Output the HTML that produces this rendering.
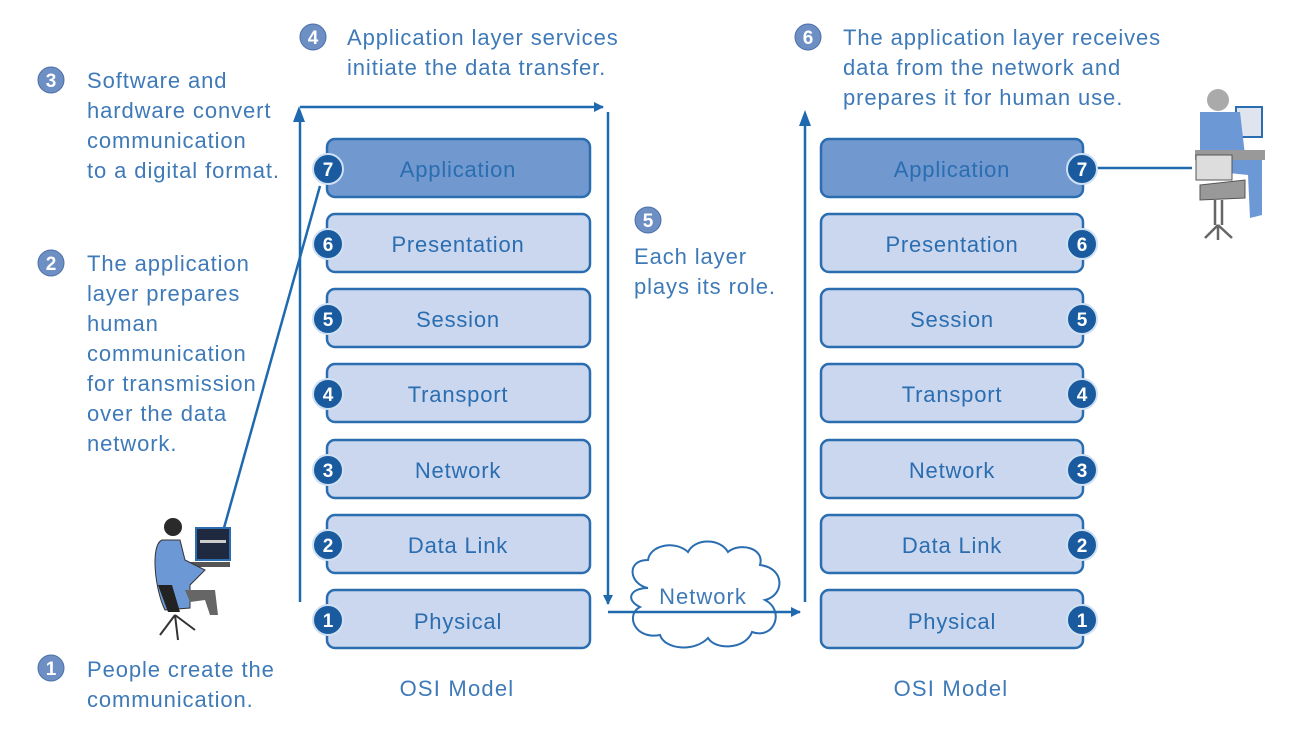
<!DOCTYPE html>
<html><head><meta charset="utf-8"><style>
html,body{margin:0;padding:0;background:#fff}
svg{display:block}
text{font-family:"Liberation Sans",sans-serif}
.t{fill:#3f7ab8;font-size:22px;letter-spacing:0.9px}
.bl{fill:#2a6db0;font-size:22px;letter-spacing:0.8px;text-anchor:middle}
.nb{fill:#fff;font-size:19px;font-weight:bold;text-anchor:middle}
</style></head><body>
<svg width="1297" height="730" viewBox="0 0 1297 730" xmlns="http://www.w3.org/2000/svg">
<defs>
<marker id="ah" markerWidth="10" markerHeight="10" refX="9" refY="5" orient="auto" markerUnits="userSpaceOnUse">
<path d="M0,0 L10,5 L0,10 Z" fill="#1f6aae"/></marker>
</defs>

<g>
<circle cx="51" cy="80" r="13" fill="#6d8fc4" stroke="#4a6fa8"/><text x="51" y="87" class="nb">3</text>
<text class="t" x="87" y="88">Software and</text>
<text class="t" x="87" y="118">hardware convert</text>
<text class="t" x="87" y="148">communication</text>
<text class="t" x="87" y="178">to a digital format.</text>

<circle cx="51" cy="263" r="13" fill="#6d8fc4" stroke="#4a6fa8"/><text x="51" y="270" class="nb">2</text>
<text class="t" x="87" y="271">The application</text>
<text class="t" x="87" y="301">layer prepares</text>
<text class="t" x="87" y="331">human</text>
<text class="t" x="87" y="361">communication</text>
<text class="t" x="87" y="391">for transmission</text>
<text class="t" x="87" y="421">over the data</text>
<text class="t" x="87" y="451">network.</text>

<circle cx="51" cy="668" r="13" fill="#6d8fc4" stroke="#4a6fa8"/><text x="51" y="675" class="nb">1</text>
<text class="t" x="87" y="677">People create the</text>
<text class="t" x="87" y="707">communication.</text>

<circle cx="313" cy="37" r="13" fill="#6d8fc4" stroke="#4a6fa8"/><text x="313" y="44" class="nb">4</text>
<text class="t" x="347" y="45">Application layer services</text>
<text class="t" x="347" y="75">initiate the data transfer.</text>

<circle cx="808" cy="37" r="13" fill="#6d8fc4" stroke="#4a6fa8"/><text x="808" y="44" class="nb">6</text>
<text class="t" x="843" y="45">The application layer receives</text>
<text class="t" x="843" y="75">data from the network and</text>
<text class="t" x="843" y="105">prepares it for human use.</text>

<circle cx="648" cy="220" r="13" fill="#6d8fc4" stroke="#4a6fa8"/><text x="648" y="227" class="nb">5</text>
<text class="t" x="634" y="264">Each layer</text>
<text class="t" x="634" y="294">plays its role.</text>
</g>

<g stroke="#1f6aae" stroke-width="2.5" fill="none">
<path d="M300,602 L300,116"/>
<path d="M300,107 L603,107" marker-end="url(#ah)"/>
<path d="M608,112 L608,604" marker-end="url(#ah)"/>
<path d="M805,602 L805,118"/>
<path d="M320,186 L222,535"/>
<path d="M1096,168 L1192,168"/>
</g>
<path d="M299,106 l-6,16 h12 z" fill="#1f6aae"/>
<path d="M805,110 l-6,16 h12 z" fill="#1f6aae"/>

<path d="M648,588 C630,585 625,560 648,560 C650,545 675,540 688,552 C695,538 720,538 728,552 C740,542 765,548 760,565 C785,568 785,595 765,600 C785,610 775,640 752,632 C745,650 715,650 708,638 C695,652 665,650 660,635 C635,640 625,615 640,607 C625,600 630,588 648,588 Z" fill="#fff" stroke="#2a6db0" stroke-width="2"/>
<text x="703" y="604" style="fill:#3f7ab8;font-size:22px;letter-spacing:1px;text-anchor:middle">Network</text>
<path d="M608,612 L800,612" stroke="#1f6aae" stroke-width="2.5" marker-end="url(#ah)"/>

<g>
<rect x="327" y="139" width="263" height="58" rx="8" fill="#7199cf" stroke="#2a6db0" stroke-width="2.5"/>
<rect x="327" y="214" width="263" height="58" rx="8" fill="#cbd7ee" stroke="#2a6db0" stroke-width="2.5"/>
<rect x="327" y="289" width="263" height="58" rx="8" fill="#cbd7ee" stroke="#2a6db0" stroke-width="2.5"/>
<rect x="327" y="364" width="263" height="58" rx="8" fill="#cbd7ee" stroke="#2a6db0" stroke-width="2.5"/>
<rect x="327" y="440" width="263" height="58" rx="8" fill="#cbd7ee" stroke="#2a6db0" stroke-width="2.5"/>
<rect x="327" y="515" width="263" height="58" rx="8" fill="#cbd7ee" stroke="#2a6db0" stroke-width="2.5"/>
<rect x="327" y="590" width="263" height="58" rx="8" fill="#cbd7ee" stroke="#2a6db0" stroke-width="2.5"/>
<text class="bl" x="458" y="177">Application</text>
<text class="bl" x="458" y="252">Presentation</text>
<text class="bl" x="458" y="327">Session</text>
<text class="bl" x="458" y="402">Transport</text>
<text class="bl" x="458" y="478">Network</text>
<text class="bl" x="458" y="553">Data Link</text>
<text class="bl" x="458" y="629">Physical</text>
<g fill="#1a5a9e" stroke="#cfe0f3" stroke-width="2">
<circle cx="328" cy="169" r="15"/><circle cx="328" cy="244" r="15"/><circle cx="328" cy="319" r="15"/><circle cx="328" cy="394" r="15"/><circle cx="328" cy="470" r="15"/><circle cx="328" cy="545" r="15"/><circle cx="328" cy="620" r="15"/>
</g>
<text class="nb" x="328" y="176">7</text><text class="nb" x="328" y="251">6</text><text class="nb" x="328" y="326">5</text><text class="nb" x="328" y="401">4</text><text class="nb" x="328" y="477">3</text><text class="nb" x="328" y="552">2</text><text class="nb" x="328" y="627">1</text>
<text x="457" y="696" style="fill:#3f7ab8;font-size:22px;letter-spacing:1.2px;text-anchor:middle">OSI Model</text>
</g>

<g>
<rect x="821" y="139" width="262" height="58" rx="8" fill="#7199cf" stroke="#2a6db0" stroke-width="2.5"/>
<rect x="821" y="214" width="262" height="58" rx="8" fill="#cbd7ee" stroke="#2a6db0" stroke-width="2.5"/>
<rect x="821" y="289" width="262" height="58" rx="8" fill="#cbd7ee" stroke="#2a6db0" stroke-width="2.5"/>
<rect x="821" y="364" width="262" height="58" rx="8" fill="#cbd7ee" stroke="#2a6db0" stroke-width="2.5"/>
<rect x="821" y="440" width="262" height="58" rx="8" fill="#cbd7ee" stroke="#2a6db0" stroke-width="2.5"/>
<rect x="821" y="515" width="262" height="58" rx="8" fill="#cbd7ee" stroke="#2a6db0" stroke-width="2.5"/>
<rect x="821" y="590" width="262" height="58" rx="8" fill="#cbd7ee" stroke="#2a6db0" stroke-width="2.5"/>
<text class="bl" x="952" y="177">Application</text>
<text class="bl" x="952" y="252">Presentation</text>
<text class="bl" x="952" y="327">Session</text>
<text class="bl" x="952" y="402">Transport</text>
<text class="bl" x="952" y="478">Network</text>
<text class="bl" x="952" y="553">Data Link</text>
<text class="bl" x="952" y="629">Physical</text>
<g fill="#1a5a9e" stroke="#cfe0f3" stroke-width="2">
<circle cx="1082" cy="169" r="15"/><circle cx="1082" cy="244" r="15"/><circle cx="1082" cy="319" r="15"/><circle cx="1082" cy="394" r="15"/><circle cx="1082" cy="470" r="15"/><circle cx="1082" cy="545" r="15"/><circle cx="1082" cy="620" r="15"/>
</g>
<text class="nb" x="1082" y="176">7</text><text class="nb" x="1082" y="251">6</text><text class="nb" x="1082" y="326">5</text><text class="nb" x="1082" y="401">4</text><text class="nb" x="1082" y="477">3</text><text class="nb" x="1082" y="552">2</text><text class="nb" x="1082" y="627">1</text>
<text x="951" y="696" style="fill:#3f7ab8;font-size:22px;letter-spacing:1.2px;text-anchor:middle">OSI Model</text>
</g>

<g>
<rect x="196" y="528" width="34" height="32" fill="#1f2a40" stroke="#2a6db0" stroke-width="2"/>
<rect x="200" y="540" width="26" height="3" fill="#ccc"/>
<rect x="185" y="562" width="45" height="5" fill="#555"/>
<circle cx="173" cy="527" r="9" fill="#2a2a2a"/>
<path d="M162,540 C150,545 155,590 165,610 L190,608 L190,585 L205,570 L185,560 L180,540 Z" fill="#6d98d6" stroke="#333"/>
<path d="M185,590 L215,590 L218,615 L210,615 L205,600 L190,602 Z" fill="#666"/>
<path d="M158,585 L168,612 L180,612 L172,585 Z" fill="#222"/>
<path d="M175,615 L160,635 M175,615 L195,630 M175,615 L178,640" stroke="#333" stroke-width="2"/>
</g>

<g>
<rect x="1236" y="107" width="26" height="30" fill="#dfe4ee" stroke="#2a6db0" stroke-width="2"/>
<circle cx="1218" cy="100" r="11" fill="#aaa"/>
<path d="M1200,112 L1240,112 L1245,155 L1262,160 L1262,215 L1250,218 L1248,175 L1200,170 Z" fill="#6d98d6"/>
<rect x="1195" y="150" width="70" height="10" fill="#999"/>
<rect x="1196" y="155" width="36" height="25" fill="#ddd" stroke="#555"/>
<path d="M1200,185 L1245,180 L1245,198 L1200,200 Z" fill="#999" stroke="#555"/>
<path d="M1215,200 L1215,225 M1222,200 L1222,225 M1218,225 L1205,238 M1218,225 L1232,238 M1218,225 L1218,240" stroke="#666" stroke-width="2.5"/>
</g>
</svg>
</body></html>
